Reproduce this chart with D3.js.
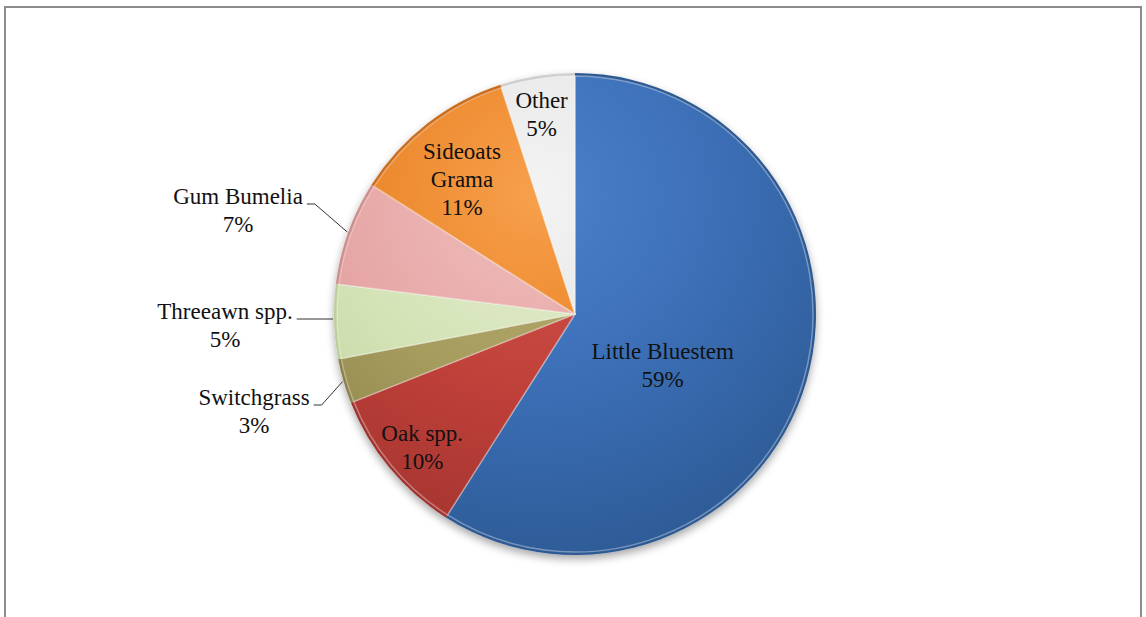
<!DOCTYPE html>
<html>
<head>
<meta charset="utf-8">
<script src="https://cdn.jsdelivr.net/npm/d3@7"></script>
<style>
  body { margin: 0; background: #fff; }
  text { font-family: "Liberation Serif", "Times New Roman", serif; font-size: 23px; fill: #111; }
</style>
</head>
<body>
<div id="chart"></div>
<script>
// data, clockwise from 12 o'clock
const categories = ["Little Bluestem", "Oak spp.", "Switchgrass", "Threeawn spp.", "Gum Bumelia", "Sideoats Grama", "Other"];
const values = [59, 10, 3, 5, 7, 11, 5];
const labelLines = [["Little Bluestem"], ["Oak spp."], ["Switchgrass"], ["Threeawn spp."], ["Gum Bumelia"], ["Sideoats", "Grama"], ["Other"]];

// palette: [light, base, dark]
const palette = [
  ["#4c82cc", "#3b6eb5", "#2d5a94"],
  ["#d4574f", "#c0403a", "#a0332e"],
  ["#b8ae72", "#a69c5e", "#8a8149"],
  ["#e4edd0", "#d4e3b6", "#bccf9a"],
  ["#f0bfbe", "#e6a7a6", "#cf8e8d"],
  ["#f7a04c", "#ea8427", "#cc6d1c"],
  ["#f3f3f3", "#e6e6e6", "#cfcfcf"]
];

const W = 1146, H = 617;
const cx = 575, cy = 314, R = 241;

const svg = d3.select("#chart").append("svg")
  .attr("width", W)
  .attr("height", H);

// outer frame
svg.append("rect")
  .attr("x", 5).attr("y", 7)
  .attr("width", 1136).attr("height", 640)
  .attr("fill", "none")
  .attr("stroke", "#8c8c8c")
  .attr("stroke-width", 2);

const defs = svg.append("defs");
const shadow = defs.append("filter").attr("id", "shadow")
  .attr("x", "-10%").attr("y", "-10%").attr("width", "120%").attr("height", "125%");
shadow.append("feDropShadow")
  .attr("dx", 0).attr("dy", 4)
  .attr("stdDeviation", 4)
  .attr("flood-color", "#000")
  .attr("flood-opacity", 0.35);

// gradients live in the pie group's coordinates (origin = pie centre)
palette.forEach((p, i) => {
  const g = defs.append("radialGradient")
    .attr("id", "grad" + i)
    .attr("gradientUnits", "userSpaceOnUse")
    .attr("cx", -40).attr("cy", -120).attr("r", R * 1.6);
  g.append("stop").attr("offset", "0%").attr("stop-color", p[0]);
  g.append("stop").attr("offset", "50%").attr("stop-color", p[1]);
  g.append("stop").attr("offset", "100%").attr("stop-color", p[2]);
});

const pie = d3.pie().sort(null).value(d => d);
const arcs = pie(values);

const arc = d3.arc().innerRadius(0).outerRadius(R);
const bevel = d3.arc().innerRadius(0).outerRadius(R - 3);

const g = svg.append("g").attr("transform", `translate(${cx},${cy})`);

const slices = g.append("g").attr("filter", "url(#shadow)");
slices.selectAll("path.slice")
  .data(arcs)
  .enter()
  .append("path")
  .attr("class", "slice")
  .attr("d", arc)
  .attr("fill", (d, i) => palette[i][2]);

// inner bevel face
g.append("g").selectAll("path.face")
  .data(arcs)
  .enter()
  .append("path")
  .attr("class", "face")
  .attr("d", bevel)
  .attr("fill", (d, i) => `url(#grad${i})`)
  .attr("stroke", "rgba(255,255,255,0.35)")
  .attr("stroke-width", 1.5)
  .attr("stroke-linejoin", "round");

// label placement: inside labels by polar position, outside ones with leader lines
const inside = { 0: [0.42, 120], 1: [0.84, 229], 5: [0.73, 320], 6: [0.84, 350.5] };
const outside = { 4: [-337, -104], 3: [-350, 11], 2: [-321, 97] };
const lh = 28;

arcs.forEach((d, i) => {
  const lines = labelLines[i].concat([values[i] + "%"]);
  let x, y;
  if (inside[i]) {
    const [f, a] = inside[i];
    const rad = a * Math.PI / 180;
    x = Math.sin(rad) * R * f;
    y = -Math.cos(rad) * R * f;
  } else {
    [x, y] = outside[i];
  }
  const t = g.append("text")
    .attr("text-anchor", "middle")
    .attr("transform", `translate(${x},${y - (lines.length - 1) * lh / 2 + 8})`);
  lines.forEach((l, k) => {
    t.append("tspan").attr("x", 0).attr("y", k * lh).text(l);
  });
  if (outside[i]) {
    const bb = t.node().getBBox();
    const right = x + bb.width / 2 + 4;
    const ly = y - (lines.length - 1) * lh / 2 + 8;
    const mid = (d.startAngle + d.endAngle) / 2;
    let ex = Math.sin(mid) * (R + 1), ey = -Math.cos(mid) * (R + 1);
    if (i === 3) { ey = ly; ex = -Math.sqrt((R + 1) * (R + 1) - ly * ly); }
    const pts = i === 3 ? [[right, ly], [ex, ey]] : [[right, ly], [right + 8, ly], [ex, ey]];
    g.append("path")
      .attr("d", d3.line()(pts))
      .attr("fill", "none")
      .attr("stroke", "#333")
      .attr("stroke-width", 1);
  }
});
</script>
</body>
</html>
